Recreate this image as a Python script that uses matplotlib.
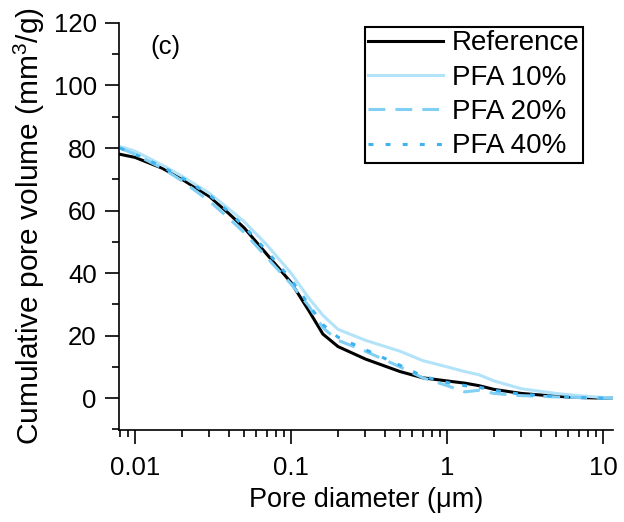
import matplotlib
matplotlib.use('Agg')
import matplotlib.pyplot as plt
import numpy as np
from matplotlib.ticker import FixedLocator, LogLocator, NullFormatter, MultipleLocator

plt.rcParams['font.family'] = ['Liberation Sans', 'DejaVu Sans']
plt.rcParams['mathtext.fontset'] = 'custom'
plt.rcParams['mathtext.rm'] = 'Liberation Sans'

# 数据
diameter = [0.008, 0.01, 0.015, 0.02, 0.03, 0.04, 0.05, 0.07, 0.1, 0.13, 0.16, 0.2,
            0.3, 0.5, 0.7, 1, 1.3, 1.6, 2, 3, 5, 7, 10, 12]
reference = [78, 77, 73.5, 70, 64.5, 59, 54.5, 46, 37, 28, 20.5, 16.5,
             12.5, 8.5, 6.5, 5.5, 4.8, 4, 2.8, 1.5, 0.6, 0.2, 0, 0]
pfa10 = [80.5, 79, 74.5, 71, 65.5, 60.5, 56.5, 49, 40, 32, 26.5, 22,
         18.5, 15, 12, 10, 8.5, 7.5, 5.5, 3, 1.5, 0.8, 0.2, 0]
pfa20 = [80, 78, 73.5, 69.5, 63, 57.5, 53, 45, 36.5, 29.5, 22.5, 18.5,
         15, 10, 6.5, 4, 2, 2.5, 1.5, 0.8, 0.4, 0.2, 0, 0]
pfa40 = [80, 78, 74, 70.5, 65, 59.5, 55, 47, 38, 30, 23.5, 19.5,
         15.5, 10.5, 7, 5, 4, 3.5, 2.5, 1.2, 0.6, 0.2, 0, 0]

fig = plt.figure(figsize=(6.24, 5.22), dpi=100)
ax = fig.add_axes([0.1907, 0.1762, 0.7917, 0.7798])

ax.plot(diameter, reference, color='black', lw=2.2, label='Reference')
ax.plot(diameter, pfa10, color='#b3e3f9', lw=2.2, label='PFA 10%')
ax.plot(diameter, pfa20, color='#80cff4', lw=2.2, ls=(0, (5.5, 3.3)), label='PFA 20%')
ax.plot(diameter, pfa40, color='#3fb2f0', lw=2.2, ls=(0, (1.6, 4)), label='PFA 40%')

ax.set_xscale('log')
ax.set_xlim(0.00789, 11.6)
ax.set_ylim(-10.2, 120)

ax.xaxis.set_major_locator(FixedLocator([0.01, 0.1, 1, 10]))
ax.set_xticklabels(['0.01', '0.1', '1', '10'])
ax.xaxis.set_minor_locator(LogLocator(base=10, subs=np.arange(2, 10)))
ax.xaxis.set_minor_formatter(NullFormatter())
ax.yaxis.set_major_locator(FixedLocator([0, 20, 40, 60, 80, 100, 120]))
ax.yaxis.set_minor_locator(MultipleLocator(10))

for s in ['top', 'right']:
    ax.spines[s].set_visible(False)
for s in ['left', 'bottom']:
    ax.spines[s].set_linewidth(1.2)

ax.tick_params(which='major', direction='out', length=10, width=1.2, labelsize=18.5, pad=6)
ax.tick_params(axis='x', which='major', pad=9)
ax.tick_params(which='minor', direction='out', length=5, width=1.2)

ax.set_xlabel('Pore diameter (μm)', fontsize=19.5, labelpad=5)
ax.set_ylabel('Cumulative pore volume (mm$^3$/g)', fontsize=21.5, labelpad=5)

ax.text(0.063, 0.94, '(c)', transform=ax.transAxes, fontsize=18.5, ha='left', va='center')

leg = ax.legend(loc='upper right', bbox_to_anchor=(0.939, 0.99), fontsize=20,
                handlelength=2.7, handletextpad=0.3, labelspacing=0.3,
                borderpad=0.12, borderaxespad=0, fancybox=False, framealpha=1)
leg.get_frame().set_edgecolor('black')
leg.get_frame().set_linewidth(1.5)

plt.savefig('out.png', dpi=100)
